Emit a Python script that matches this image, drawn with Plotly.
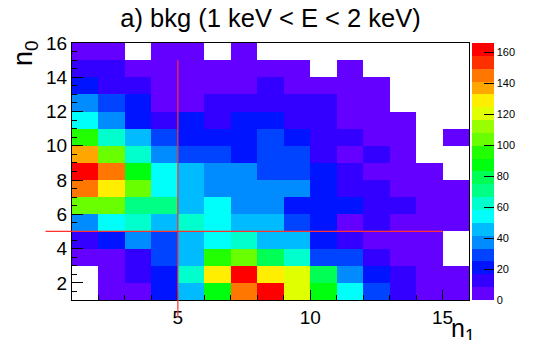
import plotly.graph_objects as go

# ---- data ----
n1_edges = [1, 2, 3, 4, 5, 6, 7, 8, 9, 10, 11, 12, 13, 14, 15, 16]
n0_edges = [1, 2, 3, 4, 5, 6, 7, 8, 9, 10, 11, 12, 13, 14, 15, 16]

# counts per bin; rows = n0 bins (bottom -> top), columns = n1 bins (left -> right); None = empty bin
row_n0_1 = [None, 5, 6, 21, 46, 87, 145, 166, 120, 87, 54, 29, 12, 5, 4]
row_n0_2 = [None, 4, 12, 21, 62, 129, 162, 129, 120, 79, 37, 21, 12, 6, 3]
row_n0_3 = [5, 6, 12, 29, 46, 95, 104, 79, 62, 29, 29, 12, 6, 4, None]
row_n0_4 = [12, 21, 37, 29, 46, 54, 62, 46, 46, 21, 12, 6, 5, 4, None]
row_n0_5 = [37, 54, 62, 46, 62, 54, 46, 46, 29, 21, 7, 12, 6, 5, 3]
row_n0_6 = [104, 104, 71, 71, 46, 54, 37, 37, 21, 21, 21, 12, 12, 6, 4]
row_n0_7 = [145, 129, 104, 54, 46, 37, 37, 37, 37, 21, 12, 12, 6, 5, 3]
row_n0_8 = [162, 145, 87, 54, 46, 37, 37, 29, 29, 21, 12, 6, 5, 3, None]
row_n0_9 = [137, 104, 62, 37, 29, 29, 21, 29, 29, 12, 6, 12, 4, None, None]
row_n0_10 = [95, 62, 46, 29, 21, 21, 21, 29, 21, 12, 12, 6, 4, None, 2]
row_n0_11 = [54, 37, 21, 12, 21, 12, 21, 21, 12, 12, 5, 4, 3, None, None]
row_n0_12 = [37, 29, 21, 6, 6, 12, 12, 12, 12, 12, 5, 3, None, None, None]
row_n0_13 = [21, 12, 12, 6, 5, 5, 4, 12, 4, 3, 3, 2, None, None, None]
row_n0_14 = [12, 12, 6, 5, 5, 4, 3, 3, 2, None, 2, None, None, None, None]
row_n0_15 = [5, 4, None, 4, 3, None, 2, None, None, None, None, None, None, None, None]

z_max = 166
z_ticks = [0, 20, 40, 60, 80, 100, 120, 140, 160]
x_ticks = [5, 10, 15]
y_ticks = [2, 4, 6, 8, 10, 12, 14, 16]
cut_n1 = 5
cut_n0 = 5
cut_end = 15
cut_start = 0

title_text = "a) bkg (1 keV < E < 2 keV)"

# ROOT "pretty" palette, 20 contour levels
band_colors = [
    "#6300ff", "#3300ff", "#0014ff", "#0044ff", "#008bff",
    "#00bbff", "#00fffb", "#00ffcc", "#00ff85", "#00ff55",
    "#00ff0e", "#22ff00", "#69ff00", "#99ff00", "#e0ff00",
    "#ffee00", "#ffa700", "#ff7700", "#ff3000", "#ff0000",
]

z = [row_n0_1, row_n0_2, row_n0_3, row_n0_4, row_n0_5, row_n0_6, row_n0_7, row_n0_8,
     row_n0_9, row_n0_10, row_n0_11, row_n0_12, row_n0_13, row_n0_14, row_n0_15]

x_centers = [(a + b) / 2 for a, b in zip(n1_edges[:-1], n1_edges[1:])]
y_centers = [(a + b) / 2 for a, b in zip(n0_edges[:-1], n0_edges[1:])]

nb = len(band_colors)
colorscale = []
for i, c in enumerate(band_colors):
    colorscale.append([i / nb, c])
    colorscale.append([(i + 1) / nb, c])

fig = go.Figure()
fig.add_trace(go.Heatmap(
    x=x_centers, y=y_centers, z=z,
    zmin=0, zmax=z_max,
    colorscale=colorscale,
    xgap=0, ygap=0,
    hoverongaps=False,
    colorbar=dict(
        thickness=22, len=1, lenmode="fraction", y=0.5, yanchor="middle",
        x=1.0075, xanchor="left", xpad=0, ypad=0,
        outlinewidth=0,
        tickmode="array", tickvals=z_ticks,
        ticks="inside", ticklen=10, tickcolor="black", tickwidth=1,
        tickfont=dict(family="Liberation Sans", size=11, color="black"),
    ),
))

xmin, xmax = n1_edges[0], n1_edges[-1]
ymin, ymax = n0_edges[0], n0_edges[-1]


def px(v):
    return (v - xmin) / (xmax - xmin)


def py(v):
    return (v - ymin) / (ymax - ymin)


# cut lines (in data units, converted to paper so they may extend past the frame)
fig.add_shape(type="line", xref="paper", yref="paper",
              x0=px(cut_start), x1=px(cut_end), y0=py(cut_n0), y1=py(cut_n0),
              line=dict(color="#ff3030", width=1.2), layer="above")
fig.add_shape(type="line", xref="paper", yref="paper",
              x0=px(cut_n1), x1=px(cut_n1), y0=py(cut_start), y1=py(cut_end),
              line=dict(color="#ff3030", width=1.2), layer="above")

axis_font = dict(family="Liberation Sans", size=19, color="black")

# the page body adds an 8px offset, so the figure is 8px smaller than the window
fig.update_layout(
    width=530, height=332,
    margin=dict(l=64, r=56, t=35, b=33),
    paper_bgcolor="white", plot_bgcolor="white",
    title=dict(text=title_text, x=0.5, xref="paper", xanchor="center",
               y=0.97, yref="container", yanchor="middle",
               font=dict(family="Liberation Sans", size=25.5, color="black")),
    xaxis=dict(range=[xmin, xmax], tickmode="array", tickvals=x_ticks,
               ticks="inside", ticklen=10, tickwidth=1, tickcolor="black",
               minor=dict(dtick=1, tick0=0, ticks="inside", ticklen=5, tickcolor="black"),
               showline=True, linecolor="black", linewidth=1, mirror=True,
               showgrid=False, zeroline=False, tickfont=axis_font),
    yaxis=dict(range=[ymin, ymax], tickmode="array", tickvals=y_ticks,
               ticks="inside", ticklen=11, tickwidth=1, tickcolor="black",
               minor=dict(dtick=0.5, tick0=0, ticks="inside", ticklen=5, tickcolor="black"),
               showline=True, linecolor="black", linewidth=1, mirror=True,
               showgrid=False, zeroline=False, tickfont=axis_font),
    annotations=[
        dict(text="n<sub>1</sub>", xref="paper", yref="paper",
             x=1.02, y=-0.045, xanchor="right", yanchor="top", showarrow=False,
             font=dict(family="Liberation Sans", size=25, color="black")),
        dict(text="n<sub>0</sub>", xref="paper", yref="paper",
             x=-0.07, y=1.02, xanchor="right", yanchor="top", showarrow=False,
             textangle=-90,
             font=dict(family="Liberation Sans", size=27, color="black")),
    ],
)

fig.write_html("out.html")
